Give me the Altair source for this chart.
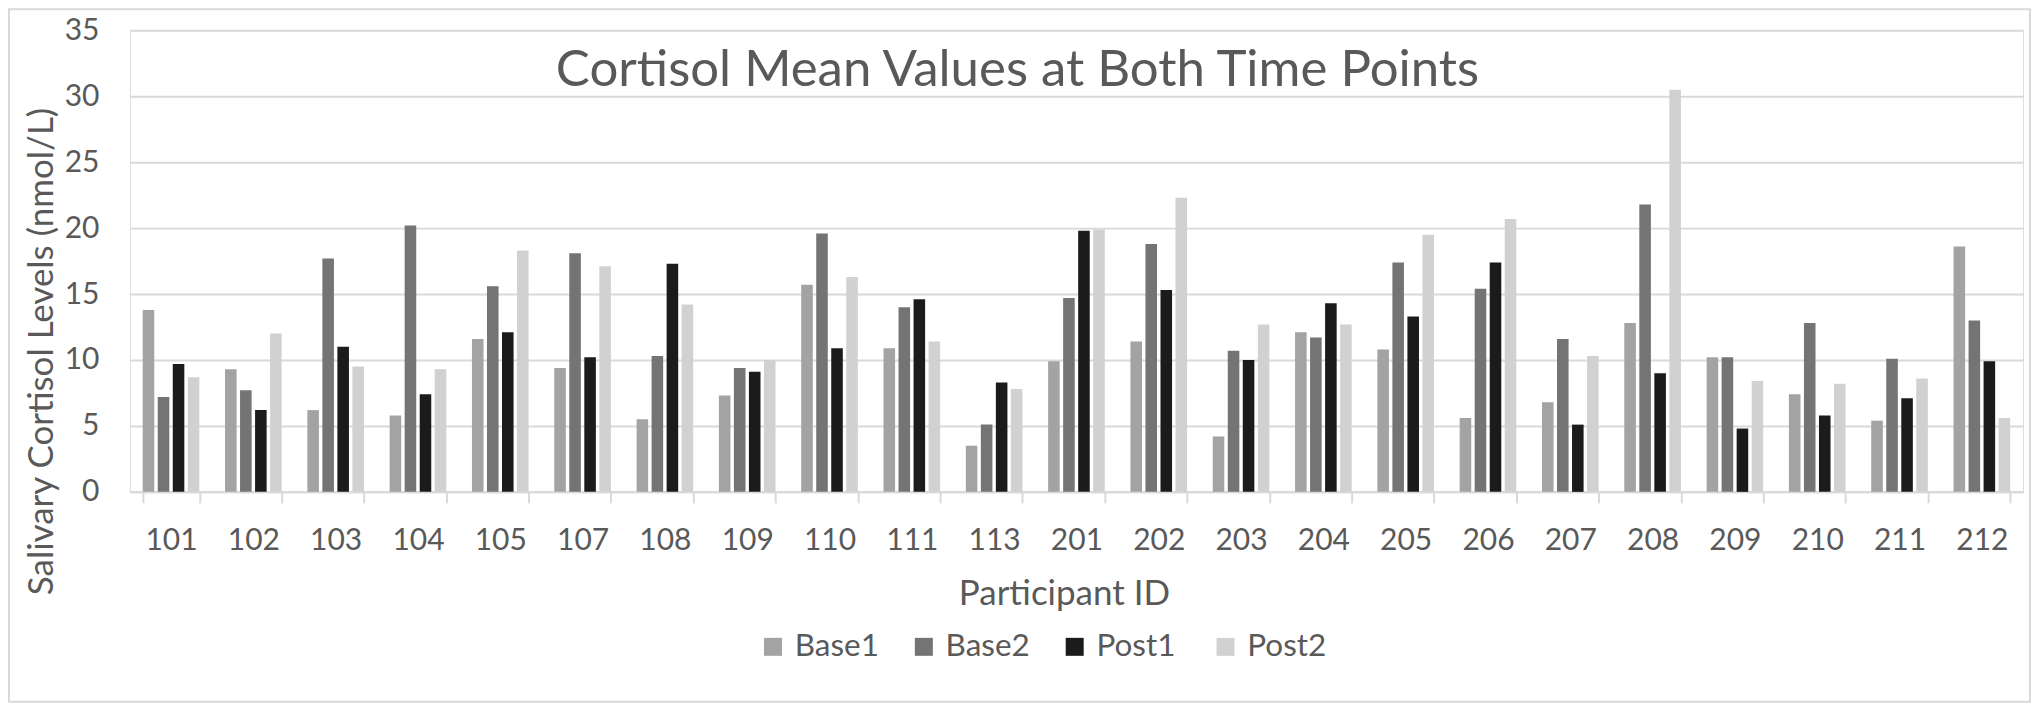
import altair as alt
import pandas as pd

participants = ["101", "102", "103", "104", "105", "107", "108", "109", "110", "111", "113",
                "201", "202", "203", "204", "205", "206", "207", "208", "209", "210", "211", "212"]
base1 = [13.8, 9.3, 6.2, 5.8, 11.6, 9.4, 5.5, 7.3, 15.7, 10.9, 3.5,
         9.9, 11.4, 4.2, 12.1, 10.8, 5.6, 6.8, 12.8, 10.2, 7.4, 5.4, 18.6]
base2 = [7.2, 7.7, 17.7, 20.2, 15.6, 18.1, 10.3, 9.4, 19.6, 14.0, 5.1,
         14.7, 18.8, 10.7, 11.7, 17.4, 15.4, 11.6, 21.8, 10.2, 12.8, 10.1, 13.0]
post1 = [9.7, 6.2, 11.0, 7.4, 12.1, 10.2, 17.3, 9.1, 10.9, 14.6, 8.3,
         19.8, 15.3, 10.0, 14.3, 13.3, 17.4, 5.1, 9.0, 4.8, 5.8, 7.1, 9.9]
post2 = [8.7, 12.0, 9.5, 9.3, 18.3, 17.1, 14.2, 10.0, 16.3, 11.4, 7.8,
         19.9, 22.3, 12.7, 12.7, 19.5, 20.7, 10.3, 30.5, 8.4, 8.2, 8.6, 5.6]
series = ["Base1", "Base2", "Post1", "Post2"]
colors = ["#a3a3a3", "#747474", "#1b1b1b", "#d1d1d1"]
y_ticks = [0, 5, 10, 15, 20, 25, 30, 35]

rows = []
for i, p in enumerate(participants):
    for s, vals in zip(series, [base1, base2, post1, post2]):
        rows.append({"Participant": p, "Series": s, "Value": vals[i]})
df = pd.DataFrame(rows)

FONT = "Lato"
TXT = "#595959"
GRID = "#d9d9d9"

bars = alt.Chart(df).mark_bar().encode(
    x=alt.X("Participant:N", sort=participants,
            scale=alt.Scale(paddingInner=0.312, paddingOuter=0.156),
            axis=alt.Axis(title="Participant ID", labelAngle=0, labelFontSize=30, labelFont=FONT,
                          labelColor=TXT, tickBand="extent", tickSize=11, tickColor=GRID, tickWidth=2,
                          domainColor=GRID, domainWidth=2, labelPadding=23, grid=False,
                          titleFontSize=35, titleFont=FONT, titleFontWeight="normal", titleColor=TXT,
                          titleX=935, titleY=113, titleBaseline="alphabetic", titleAlign="center")),
    xOffset=alt.XOffset("Series:N", sort=series,
                        scale=alt.Scale(paddingInner=0.23, paddingOuter=0)),
    y=alt.Y("Value:Q", scale=alt.Scale(domain=[0, 35], nice=False),
            axis=alt.Axis(title="Salivary Cortisol Levels (nmol/L)", values=y_ticks,
                          labelFontSize=30, labelFont=FONT, labelColor=TXT, ticks=False, tickSize=0,
                          labelPadding=31, domain=False, grid=True, gridColor=GRID, gridWidth=2,
                          titleFontSize=35, titleFont=FONT, titleFontWeight="normal", titleColor=TXT,
                          titleAngle=-90, titleX=-77, titleY=321, titleBaseline="alphabetic",
                          titleAlign="center")),
    color=alt.Color("Series:N", sort=series,
                    scale=alt.Scale(domain=series, range=colors),
                    legend=alt.Legend(title=None, orient="none", legendX=628, legendY=601,
                                      direction="horizontal", symbolType="square", symbolSize=324,
                                      symbolStrokeWidth=0, labelFontSize=31.5, labelFont=FONT,
                                      labelColor=TXT, labelOffset=6, columnPadding=29, padding=0,
                                      gridAlign="all")),
)

frame = alt.Chart(alt.Data(values=[{"f": 1}])).mark_rect(
    fillOpacity=0, stroke=GRID, strokeWidth=2
).encode(x=alt.value(-121), x2=alt.value(1902), y=alt.value(-21), y2=alt.value(672))

chart = alt.layer(frame, bars).properties(
    width=1895, height=462,
    autosize=alt.AutoSizeParams(type="none"),
    padding={"left": 122, "top": 22, "right": 9, "bottom": 212},
    title=alt.TitleParams(text="Cortisol Mean Values at Both Time Points", fontSize=51, font=FONT,
                          fontWeight="normal", color=TXT, anchor="middle", frame="group",
                          offset=0, dx=-59, dy=129, baseline="alphabetic"),
).configure_view(strokeWidth=0).configure(background="white")

chart.save("out.html", embed_options={"renderer": "svg", "actions": False})
